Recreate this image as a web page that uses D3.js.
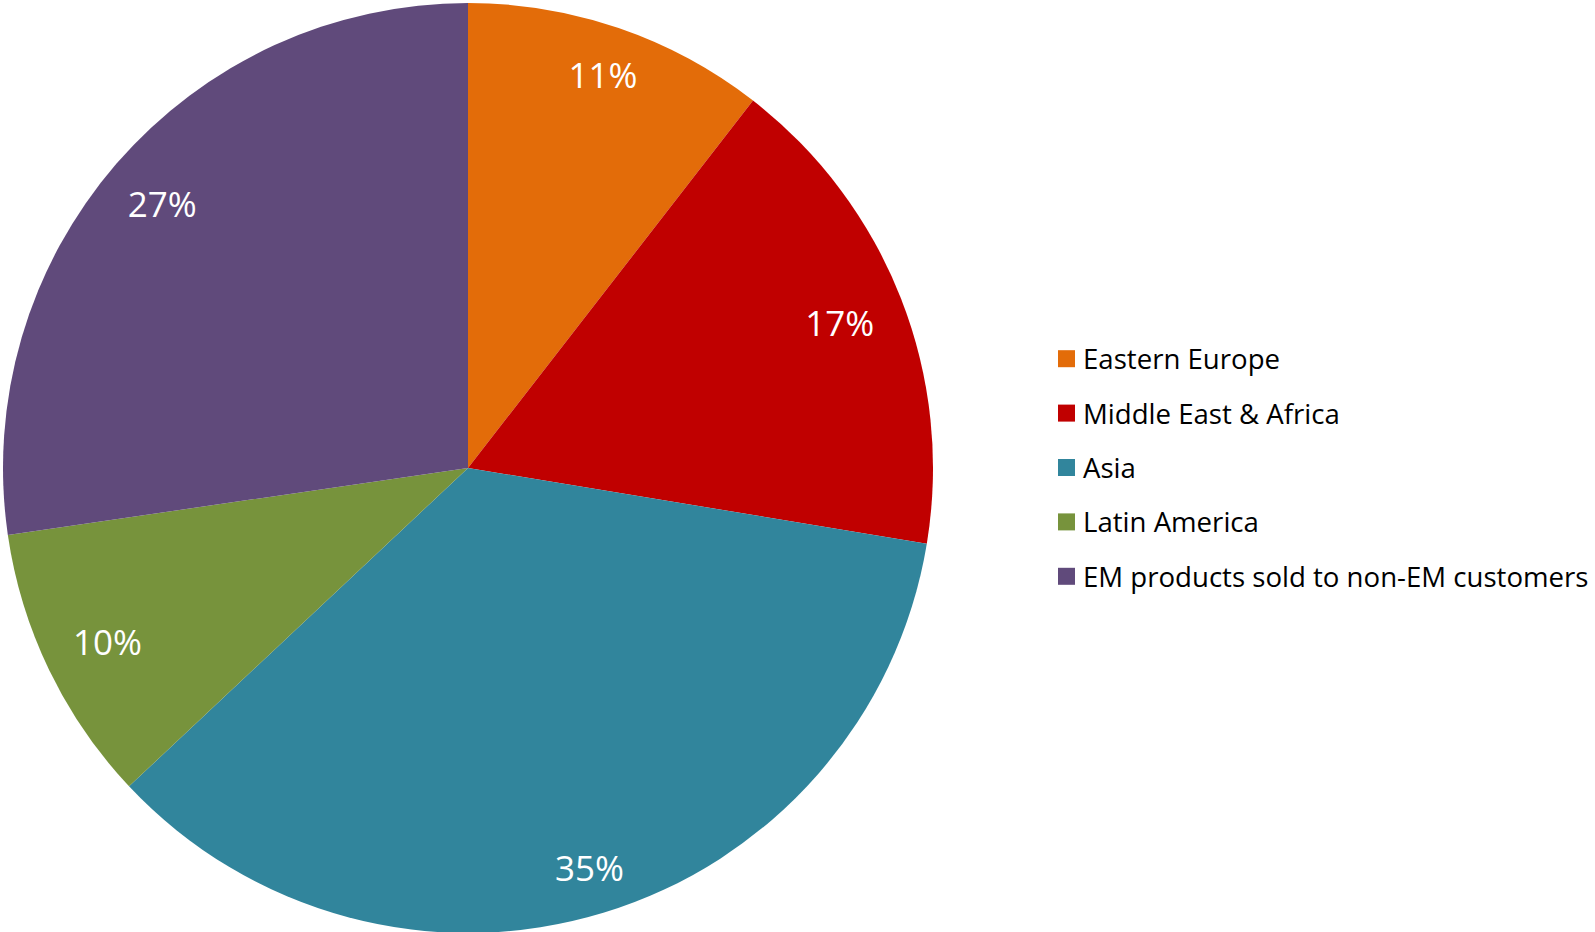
<!DOCTYPE html>
<html><head><meta charset="utf-8">
<script src="https://cdn.jsdelivr.net/npm/d3@7"></script>
<style>html,body{margin:0;padding:0;background:#fff;}svg{display:block;}</style>
</head><body>
<svg id="chart" width="1595" height="932"></svg>
<script>
const categories = ["Eastern Europe", "Middle East & Africa", "Asia", "Latin America", "EM products sold to non-EM customers"];
const values = [10.5, 17.1, 35.4, 9.7, 27.3];
const labels = ["11%", "17%", "35%", "10%", "27%"];
const colors = ["#E36C09", "#C00000", "#31859C", "#77933C", "#604A7B"];

const svg = d3.select("#chart");
const cx = 468, cy = 468, R = 465;
const font = "'Open Sans', sans-serif";

const pie = d3.pie().sort(null).value(d => d)(values);
const arc = d3.arc().innerRadius(0).outerRadius(R);

const g = svg.append("g").attr("transform", `translate(${cx},${cy})`);
g.selectAll("path").data(pie).join("path")
  .attr("d", arc).attr("fill", (d, i) => colors[i]);

// label box kept inside the pie: wider than tall, so sideways labels sit nearer the centre
function labelPos(d) {
  const a = (d.startAngle + d.endAngle) / 2;
  const r = R * 0.915 - 28 * Math.abs(Math.sin(a));
  return [r * Math.sin(a), -r * Math.cos(a)];
}
g.selectAll("text").data(pie).join("text")
  .attr("transform", d => `translate(${labelPos(d)})`)
  .attr("text-anchor", "middle").attr("dominant-baseline", "central")
  .attr("font-family", font).attr("font-size", 35).attr("fill", "#fff")
  .text((d, i) => labels[i]);

const leg = svg.append("g");
const ly = d3.scaleBand().domain(categories).range([331, 603]);
const items = leg.selectAll("g").data(categories).join("g")
  .attr("transform", d => `translate(1058,${ly(d) + ly.bandwidth() / 2})`);
items.append("rect").attr("x", 0).attr("y", -8).attr("width", 17).attr("height", 17)
  .attr("fill", (d, i) => colors[i]);
items.append("text").attr("x", 25).attr("y", 0).attr("dominant-baseline", "central")
  .attr("font-family", font).attr("font-size", 27.6).attr("fill", "#000")
  .text(d => d);
</script>
</body></html>
